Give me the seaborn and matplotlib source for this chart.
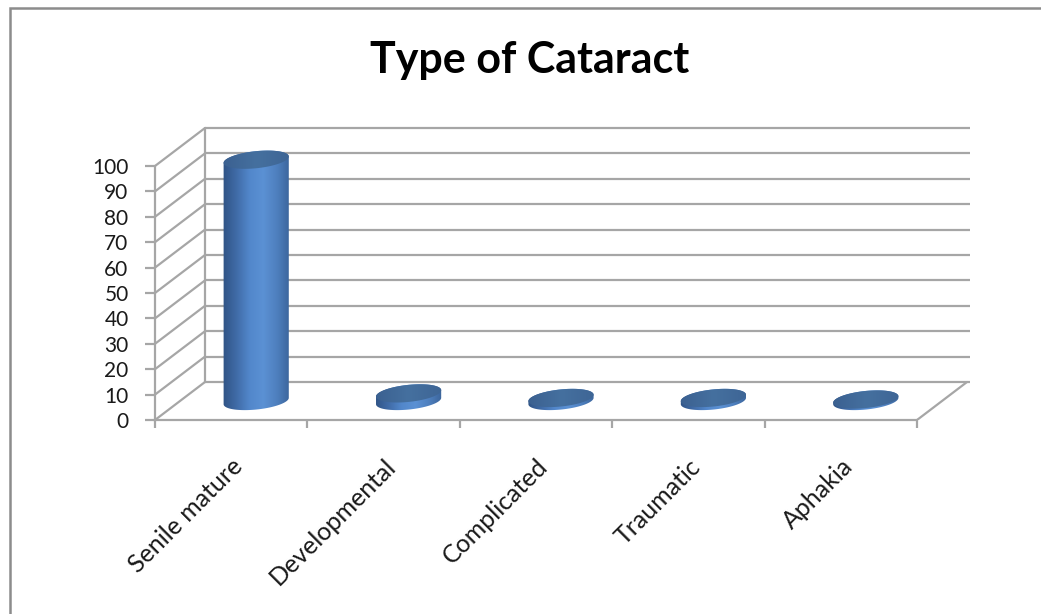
import numpy as np
import pandas as pd
import matplotlib
matplotlib.use("Agg")
import matplotlib.pyplot as plt
import seaborn as sns
from matplotlib.patches import Polygon, Rectangle
from matplotlib.colors import LinearSegmentedColormap

# Data
categories = ["Senile mature", "Developmental", "Complicated", "Traumatic", "Aphakia"]
values = [95, 3, 1.2, 1.2, 0.6]
y_ticks = list(range(0, 101, 10))
title = "Type of Cataract"

sns.set_theme(style="white")
plt.rcParams["font.family"] = ["Lato", "DejaVu Sans"]

W, H, DPI = 1041, 614, 100
fig = plt.figure(figsize=(W / DPI, H / DPI), dpi=DPI)

# Axes geometry (pixel based so the pseudo-3D depth offsets stay consistent)
px_per_x = 152.4
px_per_y = 2.54
x_lo, x_hi = -0.5, 4.9
y_lo, y_hi = 0, 116
ax_left_px, ax_bottom_px = 155, H - 420
ax_w_px = (x_hi - x_lo) * px_per_x
ax_h_px = (y_hi - y_lo) * px_per_y
ax = fig.add_axes([ax_left_px / W, ax_bottom_px / H, ax_w_px / W, ax_h_px / H])

# depth of the 3D box in data units
dx = 50 / px_per_x
dy = 38 / px_per_y

df = pd.DataFrame({"type": categories, "pct": values})
sns.barplot(data=df, x="type", y="pct", order=categories, width=0.43,
            color="#4F81BD", ax=ax, zorder=5)

ax.set_xlim(x_lo, x_hi)
ax.set_ylim(y_lo, y_hi)
ax.set_xlabel("")
ax.set_ylabel("")
ax.patch.set_alpha(0)

grid_c = "#A6A6A6"
lw = 1.6

# Back wall gridlines and side-wall diagonals
for v in y_ticks:
    ax.plot([x_lo + dx, 4.5 + dx + 0.02], [v + dy, v + dy], color=grid_c, lw=lw, zorder=1,
            solid_capstyle="butt")
    ax.plot([x_lo, x_lo + dx], [v, v + dy], color=grid_c, lw=lw, zorder=1)
ax.plot([x_lo + dx, x_lo + dx], [dy, 100 + dy], color=grid_c, lw=lw, zorder=1)
# floor right edge
ax.plot([4.5, 4.5 + dx], [0, dy], color=grid_c, lw=lw, zorder=1)

# Front axes (spines)
for s in ["top", "right"]:
    ax.spines[s].set_visible(False)
ax.spines["left"].set_bounds(0, 100)
ax.spines["bottom"].set_bounds(-0.5, 4.5)
for s in ["left", "bottom"]:
    ax.spines[s].set_color(grid_c)
    ax.spines[s].set_linewidth(lw)
    ax.spines[s].set_zorder(2)

ax.set_yticks(y_ticks)
ax.set_yticklabels([str(v) for v in y_ticks], fontsize=15, color="#1a1a1a")
ax.tick_params(axis="y", which="major", direction="out", length=7, width=lw,
               color=grid_c, pad=12, left=True)

ax.set_xticks(range(len(categories)))
ax.set_xticklabels(categories, rotation=45, ha="right", rotation_mode="anchor",
                   fontsize=18, color="#1a1a1a")
ax.set_xticks(np.arange(-0.5, len(categories), 1.0), minor=True)
ax.tick_params(axis="x", which="major", length=0, pad=25)
ax.tick_params(axis="x", which="minor", direction="out", length=6, width=lw,
               color=grid_c, bottom=True)

# Cylinders built from the seaborn bars
side_cmap = LinearSegmentedColormap.from_list(
    "cyl", ["#2F5283", "#3F6AA5", "#5287CB", "#5B91D4", "#4E7FBE", "#3A6398"])
cap_cmap = LinearSegmentedColormap.from_list("cap", ["#3B6090", "#45709F", "#3E6595"])

b_px = 8.5
tilt = np.deg2rad(6)


def ellipse_pts(cx, cy, a_px, t):
    ex = a_px * np.cos(t)
    ey = b_px * np.sin(t)
    rx = ex * np.cos(tilt) - ey * np.sin(tilt)
    ry = ex * np.sin(tilt) + ey * np.cos(tilt)
    return np.column_stack([cx + rx / px_per_x, cy + ry / px_per_y])


for patch in list(ax.patches):
    x0 = patch.get_x()
    w = patch.get_width()
    h = patch.get_height()
    patch.set_visible(False)
    cx = x0 + w / 2 + dx / 2
    base = dy / 2
    top = base + h
    a_px = w * px_per_x / 2

    lower = ellipse_pts(cx, base, a_px, np.linspace(np.pi, 2 * np.pi, 60))
    upper = ellipse_pts(cx, top, a_px, np.linspace(0, np.pi, 60))
    body = np.vstack([lower, upper])
    clip = Polygon(body, closed=True, transform=ax.transData, facecolor="none",
                   edgecolor="none")
    ax.add_patch(clip)
    grad = np.linspace(0, 1, 256).reshape(1, -1)
    ymin = base - 2 * b_px / px_per_y
    ymax = top + 2 * b_px / px_per_y
    im = ax.imshow(grad, cmap=side_cmap, aspect="auto",
                   extent=[cx - w / 2 - 0.01, cx + w / 2 + 0.01, ymin, ymax],
                   zorder=5, interpolation="bicubic")
    im.set_clip_path(clip)

    cap = ellipse_pts(cx, top, a_px, np.linspace(0, 2 * np.pi, 120))
    cap_clip = Polygon(cap, closed=True, transform=ax.transData, facecolor="none",
                       edgecolor="none")
    ax.add_patch(cap_clip)
    im2 = ax.imshow(grad, cmap=cap_cmap, aspect="auto",
                    extent=[cx - w / 2 - 0.01, cx + w / 2 + 0.01,
                            top - 2 * b_px / px_per_y, top + 2 * b_px / px_per_y],
                    zorder=6, interpolation="bicubic")
    im2.set_clip_path(cap_clip)

ax.set_xlim(x_lo, x_hi)
ax.set_ylim(y_lo, y_hi)

# Title
fig.text(530 / W, 1 - 60 / H, title, ha="center", va="center",
         fontsize=31, fontweight="bold", color="black")

# Chart frame
fig.add_artist(Rectangle((10 / W, -0.1), 1.2, 1 - 8 / H + 0.1, transform=fig.transFigure,
                         facecolor="none", edgecolor="#8C8C8C", lw=1.8))

fig.savefig("out.png", dpi=DPI, facecolor="white")
